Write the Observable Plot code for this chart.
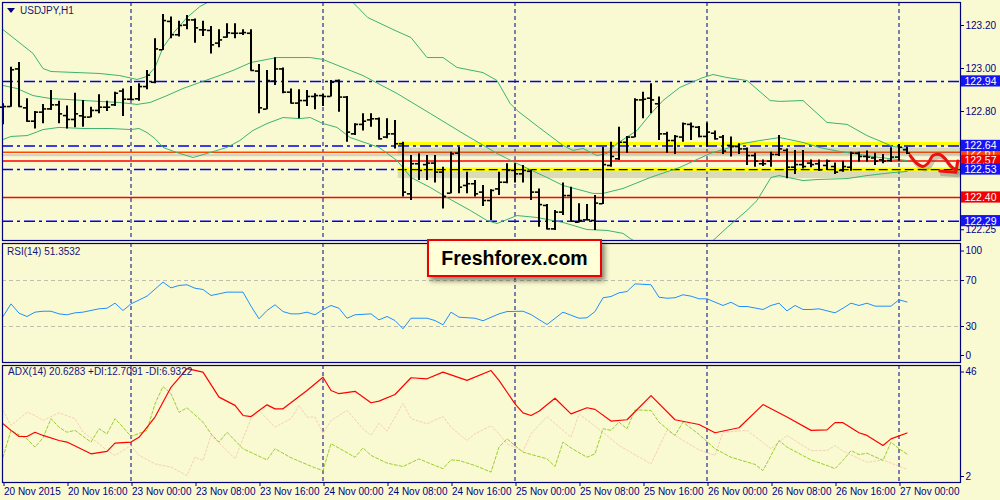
<!DOCTYPE html>
<html>
<head>
<meta charset="utf-8">
<script src="https://cdn.jsdelivr.net/npm/d3@7"></script>
<script src="https://cdn.jsdelivr.net/npm/@observablehq/plot@0.6"></script>
<style>
  body { margin: 0; background: #FAFAD2; }
  #chart { position: relative; width: 1000px; height: 500px; background: #FAFAD2; overflow: hidden;
    font-family: "Liberation Sans Narrow", "Liberation Sans", Arial, sans-serif; }
  #chart svg { position: absolute; left: 0; }
  .pane-title { position: absolute; font-size: 10px; line-height: 12px; color: #14147a; white-space: nowrap; }
  .tri { display: inline-block; width: 0; height: 0; border-left: 4px solid transparent;
    border-right: 4px solid transparent; border-top: 5px solid #000080; margin-right: 5px; vertical-align: 1px; }
  #logo { position: absolute; left: 427px; top: 239px; width: 175px; height: 38px; box-sizing: border-box;
    border: 2px solid #F00000; background: #FFFFD8; box-shadow: 3px 4px 5px rgba(0,0,0,0.45);
    font: bold 19.5px "Liberation Sans", Arial, sans-serif; color: #000; text-align: center; line-height: 34px; }
</style>
</head>
<body>
<div id="chart"></div>
<script>
// USDJPY H1, one bar per hour, bar 0 = 20 Nov 2015 08:00
const open = [
  122.820,122.823,122.998,122.817,122.755,122.797,122.812,122.831,122.781,122.763,
  122.780,122.774,122.805,122.820,122.831,122.895,122.857,122.859,122.916,122.936,
  123.087,123.219,123.157,123.202,123.226,123.180,123.177,123.118,123.146,123.164,
  123.164,123.164,122.988,122.811,122.941,122.998,122.890,122.839,122.851,122.870,
  122.874,122.870,122.944,122.867,122.696,122.740,122.761,122.766,122.681,122.696,
  122.650,122.417,122.557,122.553,122.560,122.518,122.420,122.606,122.456,122.464,
  122.425,122.386,122.440,122.471,122.526,122.510,122.522,122.425,122.363,122.254,
  122.332,122.409,122.285,122.296,122.293,122.371,122.549,122.580,122.657,122.681,
  122.854,122.862,122.836,122.696,122.665,122.681,122.740,122.727,122.684,122.699,
  122.681,122.642,122.637,122.626,122.595,122.557,122.569,122.600,122.619,122.541,
  122.553,122.560,122.557,122.549,122.544,122.526,122.541,122.606,122.591,122.584,
  122.575,122.572,122.588,122.622
];
const high = [
  122.836,123.006,123.028,122.859,122.800,122.833,122.898,122.848,122.826,122.885,
  122.851,122.820,122.878,122.848,122.890,122.905,122.916,122.929,122.991,123.138,
  123.251,123.239,123.220,123.247,123.230,123.220,123.195,123.180,123.208,123.208,
  123.180,123.180,123.019,122.991,123.050,123.002,122.905,122.901,122.898,122.882,
  122.879,122.944,122.947,122.870,122.743,122.789,122.789,122.770,122.766,122.758,
  122.657,122.595,122.603,122.595,122.595,122.541,122.611,122.634,122.518,122.479,
  122.456,122.436,122.518,122.557,122.557,122.549,122.526,122.440,122.368,122.340,
  122.467,122.448,122.371,122.367,122.409,122.634,122.657,122.727,122.684,122.859,
  122.890,122.929,122.867,122.704,122.688,122.746,122.746,122.730,122.746,122.709,
  122.688,122.681,122.650,122.630,122.606,122.575,122.611,122.688,122.626,122.619,
  122.619,122.575,122.575,122.575,122.560,122.569,122.611,122.611,122.616,122.606,
  122.600,122.631,122.647,122.634
];
const low = [
  122.738,122.820,122.820,122.750,122.719,122.743,122.805,122.743,122.719,122.724,
  122.727,122.771,122.789,122.800,122.823,122.777,122.851,122.848,122.901,122.929,
  123.084,123.138,123.146,123.180,123.118,123.149,123.068,123.096,123.141,123.138,
  123.153,122.988,122.789,122.808,122.921,122.882,122.836,122.766,122.823,122.808,
  122.823,122.867,122.797,122.657,122.688,122.709,122.727,122.668,122.673,122.626,
  122.402,122.386,122.479,122.479,122.467,122.347,122.417,122.417,122.417,122.402,
  122.358,122.293,122.409,122.464,122.467,122.467,122.386,122.262,122.250,122.247,
  122.316,122.285,122.281,122.293,122.247,122.367,122.541,122.572,122.606,122.678,
  122.766,122.789,122.665,122.606,122.600,122.657,122.665,122.678,122.634,122.668,
  122.600,122.588,122.600,122.549,122.541,122.544,122.541,122.591,122.487,122.507,
  122.533,122.538,122.522,122.526,122.507,122.518,122.522,122.564,122.564,122.549,
  122.557,122.564,122.569,122.600
];
const close = [
  122.823,122.994,122.823,122.755,122.797,122.812,122.831,122.789,122.763,122.789,
  122.774,122.805,122.820,122.820,122.885,122.857,122.856,122.916,122.969,123.091,
  123.223,123.157,123.200,123.226,123.189,123.180,123.110,123.133,123.166,123.164,
  123.167,122.991,122.817,122.944,122.998,122.890,122.839,122.851,122.870,122.874,
  122.870,122.936,122.867,122.704,122.740,122.755,122.766,122.673,122.696,122.650,
  122.425,122.557,122.526,122.560,122.518,122.405,122.603,122.448,122.464,122.417,
  122.386,122.433,122.471,122.526,122.510,122.526,122.425,122.367,122.254,122.332,
  122.409,122.290,122.293,122.296,122.374,122.553,122.591,122.657,122.681,122.854,
  122.857,122.854,122.696,122.665,122.684,122.743,122.730,122.684,122.704,122.673,
  122.616,122.637,122.626,122.595,122.569,122.557,122.600,122.626,122.541,122.553,
  122.544,122.553,122.529,122.569,122.518,122.544,122.606,122.591,122.588,122.569,
  122.569,122.588,122.634,122.606
];

// Bollinger bands [bar, price]
const bbUpper = [[0,123.181],[3.75,123.07],[5,123.0],[6,122.986],[12,122.977],[14.6,122.967],[16.75,122.949],[18,122.963],[19,123.005],[20,123.098],[21.25,123.163],[23,123.237],[24.6,123.288],[26,123.316],[30,123.37],[34,123.40],[38,123.39],[41.5,123.36],[43.75,123.307],[45.6,123.237],[49,123.177],[51,123.144],[53,123.051],[55,123.051],[56.75,123.005],[60,122.981],[61.75,122.944],[63.4,122.837],[64.25,122.805],[67,122.726],[70,122.642],[71.25,122.619],[72.5,122.628],[74.25,122.595],[75.5,122.605],[76.75,122.651],[79.25,122.712],[81,122.791],[82.5,122.851],[84.6,122.912],[87.5,122.958],[88.75,122.972],[90.5,122.958],[93,122.944],[95.9,122.851],[97.1,122.847],[100,122.851],[103,122.749],[105.5,122.740],[108,122.688],[111.25,122.637],[113,122.628]];
const bbMiddle = [[0,122.921],[1.75,122.907],[3.75,122.874],[6,122.860],[8,122.856],[12,122.847],[14.6,122.842],[16.75,122.833],[18.4,122.842],[20.5,122.874],[22.5,122.907],[24.6,122.935],[26.75,122.963],[28.75,122.991],[31,123.028],[34.25,123.051],[38.4,123.051],[40,123.042],[43.4,122.991],[45,122.967],[49.25,122.884],[53.4,122.791],[57.5,122.698],[61.75,122.605],[64.25,122.558],[68,122.493],[70,122.456],[73.75,122.419],[75,122.419],[77.5,122.442],[80.9,122.493],[84.6,122.540],[88.4,122.605],[92.5,122.651],[94.6,122.665],[97.1,122.679],[100,122.656],[102,122.633],[104.6,122.614],[107.1,122.600],[109.6,122.586],[113,122.572]];
const bbLower = [[0,122.670],[1,122.684],[3,122.688],[3.75,122.698],[5,122.716],[7,122.726],[10,122.721],[13.4,122.721],[16,122.716],[17,122.721],[18,122.702],[19,122.674],[20,122.633],[21.75,122.609],[23.75,122.586],[25.5,122.605],[28,122.633],[29.6,122.665],[31.25,122.712],[33,122.744],[35,122.772],[37.1,122.767],[38.4,122.772],[40,122.744],[41.75,122.726],[43.4,122.679],[47,122.633],[49.25,122.572],[51,122.493],[53.4,122.447],[55.5,122.400],[58.4,122.340],[60.5,122.293],[61.75,122.279],[64.25,122.316],[66.75,122.307],[70,122.284],[73,122.251],[75.5,122.247],[77.5,122.233],[78.4,122.209],[81,122.153],[84.6,122.144],[87,122.177],[88.75,122.200],[90.5,122.260],[93,122.340],[94.25,122.386],[96,122.493],[97,122.502],[100,122.479],[102,122.484],[105.5,122.488],[108,122.502],[111.25,122.516],[113,122.521]];

// RSI(14) [bar, value]
const rsi = [[0,38.7],[1,49.7],[2,41.6],[3,38.7],[4,42.5],[5,43.3],[6,43.3],[7,41.0],[8,40.2],[9,41.9],[10,42.5],[12,45.4],[13,45.9],[14,50.3],[15,43.9],[16,49.7],[18,56.4],[20,68.6],[21,63.6],[22,65.7],[23,66.3],[24,63.3],[25,62.2],[26,57.0],[27,58.4],[28,59.9],[30,59.9],[31,47.7],[32,36.7],[33,43.9],[34,48.9],[35,43.0],[36,41.0],[37,41.0],[38,42.5],[39,40.2],[40,44.8],[41,48.3],[42,45.9],[43,37.2],[44,40.2],[46,41.0],[47,35.8],[48,38.7],[49,35.2],[50,28.0],[51,37.2],[53,37.2],[54,35.2],[55,31.5],[56,42.5],[57,38.1],[59,37.2],[60,35.0],[62,41.0],[63,43.0],[65,43.3],[66,40.4],[68,31.7],[70,42.5],[72,37.2],[73,37.6],[74,43.0],[75,55.0],[76,56.1],[77,59.3],[78,60.4],[79,67.1],[81,66.3],[82,55.5],[83,54.6],[84,55.0],[85,57.6],[86,56.4],[87,54.1],[88,54.1],[90,48.3],[91,51.1],[92,47.4],[93,47.4],[95,44.8],[96,48.3],[97,50.3],[98,43.6],[99,48.3],[100,44.8],[101,44.8],[102,45.4],[104,41.9],[105,45.9],[106,50.3],[107,48.3],[108,50.3],[109,47.7],[111,47.7],[112,53.2],[113,51.35]];
const rsiLevels = [70, 30];

// ADX(14), +DI, -DI [bar, value]
const adx = [[0,24.1],[1,21.6],[2,19.3],[3,19.3],[4,20.9],[5,19.7],[7,17.8],[8,17.2],[11,12.8],[13,13.7],[14,16.8],[16,17.2],[17,19.0],[19,26.6],[21,37.8],[23,44.8],[25,43.5],[27,34.1],[29,31.0],[30,27.2],[31,26.8],[33,31.2],[34,29.7],[35,29.7],[38,36.6],[40,41.6],[41,36.6],[42,35.4],[44,36.3],[46,32.0],[47,32.6],[49,35.1],[51,41.4],[53,41.0],[55,43.5],[58,40.4],[61,44.1],[62,40.4],[64,31.6],[65,28.2],[66,27.2],[67,28.8],[69,33.7],[71,27.8],[73,30.1],[74,29.5],[76,25.1],[78,25.6],[81,34.7],[84,25.6],[87,23.8],[89,20.7],[92,22.6],[95,31.3],[98,26.6],[101,21.6],[103,21.8],[104,24.5],[105,24.5],[107,20.7],[108,19.7],[110,15.9],[111,18.4],[113,20.63]];
const plusDI = [[0,11.5],[1,21.6],[3,18.4],[4,15.3],[5,18.8],[6,26.0],[7,22.8],[8,20.9],[9,21.6],[11,17.2],[12,22.2],[13,20.3],[14,26.0],[15,22.8],[16,19.3],[18,21.6],[19,31.6],[20,38.1],[21,35.4],[22,28.4],[23,30.1],[25,24.7],[26,20.3],[27,17.2],[28,20.9],[30,14.7],[33,10.5],[34,14.7],[36,11.3],[39,7.5],[40,6.5],[41,16.6],[44,11.5],[45,15.0],[46,12.2],[48,9.3],[50,8.0],[52,10.9],[53,9.6],[55,7.2],[56,10.5],[57,10.3],[59,8.4],[61,5.9],[62,15.3],[63,18.4],[64,15.9],[65,13.4],[68,10.9],[69,8.0],[70,17.2],[71,15.0],[73,11.5],[74,12.8],[75,22.2],[76,21.6],[77,24.7],[78,22.2],[79,29.3],[81,29.1],[82,24.7],[84,19.7],[85,24.7],[87,20.1],[89,14.7],[91,11.5],[94,8.8],[95,6.5],[97,17.8],[98,15.3],[101,10.5],[103,8.4],[104,7.2],[105,10.3],[106,14.0],[107,12.5],[108,13.0],[110,10.3],[111,17.2],[112,14.7],[113,12.71]];
const minusDI = [[0,29.1],[1,23.4],[3,28.4],[4,27.2],[5,25.3],[7,28.2],[9,26.0],[10,20.9],[12,16.6],[13,14.0],[14,12.2],[16,15.9],[17,12.2],[19,9.0],[21,7.8],[23,4.6],[24,11.5],[25,10.3],[26,19.7],[28,14.0],[29,10.9],[31,26.0],[32,29.1],[34,22.8],[36,26.0],[37,31.0],[38,26.6],[39,26.6],[40,20.5],[41,25.3],[43,29.1],[45,22.2],[46,19.7],[47,24.3],[48,21.3],[50,31.8],[51,26.0],[53,24.1],[55,26.8],[56,22.8],[58,17.8],[59,20.3],[61,23.4],[62,20.3],[63,16.6],[65,13.8],[66,20.3],[68,26.8],[71,19.0],[72,27.8],[75,20.9],[77,15.9],[81,9.0],[83,21.6],[85,17.8],[87,14.3],[89,12.2],[90,20.9],[93,21.6],[96,14.7],[98,19.7],[101,14.0],[103,14.0],[104,15.9],[105,13.8],[108,9.6],[110,10.5],[113,6.93]];

// time axis
const timeTicks = [0,8,16,24,32,40,48,56,64,72,80,88,96,104,112];
const timeLabels = ["20 Nov 2015","20 Nov 16:00","23 Nov 00:00","23 Nov 08:00","23 Nov 16:00","24 Nov 00:00","24 Nov 08:00","24 Nov 16:00","25 Nov 00:00","25 Nov 08:00","25 Nov 16:00","26 Nov 00:00","26 Nov 08:00","26 Nov 16:00","27 Nov 00:00"];

// price levels drawn on the chart
const blueLevels = [122.94, 122.64, 122.53, 122.29];
const redLevels = [122.61, 122.57, 122.40];
const greyLevel = [122.598];
const zoneLevels = [122.64, 122.53];
const zoneStart = 49.4;
const priceTicks = [123.20, 123.00, 122.80, 122.25];
const boxOrder = [122.94, 122.61, 122.64, 122.57, 122.53, 122.40, 122.29];

// hand drawn forecast arrow [bar, price]
const forecastPath = [[113.4,122.595],[114.25,122.558],[115,122.544],[115.6,122.558],[116.25,122.595],[117.1,122.600],[117.75,122.581],[118.4,122.549],[119,122.530]];
const arrowHead = [[117.1,122.523],[119.1,122.517],[119.35,122.570]];

const navy = "#000080";
const green = "#3CB371";
const font = '"Liberation Sans Narrow", "Liberation Sans", Arial, sans-serif';
const xDomain = [-0.0625, 119.6875];
const dayStarts = timeTicks.filter((t, k) => timeLabels[k].endsWith("00:00"));
const bars = open.map((o, i) => ({i, open: o, high: high[i], low: low[i], close: close[i]}));
const style = {background: "none", fontFamily: font, fontSize: "10px", color: navy, overflow: "visible"};
const boxFill = v => blueLevels.includes(v) ? "#1414F5" : v === 122.61 ? "#FF4500" : "#F00000";

const grid = () => Plot.ruleX(dayStarts, {stroke: navy, strokeDasharray: "4,3", strokeWidth: 1});

const pricePlot = Plot.plot({
  width: 1000, height: 242,
  marginTop: 2, marginBottom: 2, marginLeft: 2, marginRight: 40,
  x: {domain: xDomain, axis: null},
  y: {domain: [122.2, 123.307]},
  style,
  marks: [
    grid(),
    Plot.ruleY(greyLevel, {stroke: "#D4D4C2", strokeWidth: 2.5}),
    Plot.ruleY(redLevels, {stroke: d => d === 122.61 ? "#FF4500" : "#FF0000", strokeWidth: 1.5}),
    Plot.ruleY(zoneLevels, {x1: zoneStart, x2: xDomain[1], stroke: "#6f6f55", strokeOpacity: 0.22, strokeWidth: 7, dy: 5}),
    Plot.ruleY([zoneLevels[0]], {x1: zoneStart, x2: xDomain[1], stroke: "#FFFF00", strokeWidth: 4, dy: -2}),
    Plot.ruleY(blueLevels, {stroke: "#0000EE", strokeWidth: 1.5, strokeDasharray: "11,4,3,4"}),
    Plot.ruleY([zoneLevels[1]], {x1: zoneStart, x2: xDomain[1], stroke: "#FFFF00", strokeWidth: 4}),
    Plot.ruleY([zoneLevels[1]], {x1: zoneStart, x2: xDomain[1], stroke: "#111", strokeWidth: 1.2, strokeDasharray: "9,4"}),
    Plot.line(bbUpper, {x: d => d[0], y: d => d[1], stroke: green, strokeWidth: 1, clip: true}),
    Plot.line(bbMiddle, {x: d => d[0], y: d => d[1], stroke: green, strokeWidth: 1, clip: true}),
    Plot.line(bbLower, {x: d => d[0], y: d => d[1], stroke: green, strokeWidth: 1, clip: true}),
    Plot.ruleX(bars, {x: "i", y1: "low", y2: "high", stroke: "#000", strokeWidth: 2}),
    Plot.ruleY(bars, {y: "open", x1: d => d.i - 0.45, x2: "i", stroke: "#000", strokeWidth: 1.6}),
    Plot.ruleY(bars, {y: "close", x1: "i", x2: d => d.i + 0.45, stroke: "#000", strokeWidth: 1.6}),
    Plot.line(forecastPath, {x: d => d[0], y: d => d[1], stroke: "#555", strokeOpacity: 0.3, strokeWidth: 4, dx: 2, dy: 3, curve: "catmull-rom"}),
    Plot.line(arrowHead, {x: d => d[0], y: d => d[1], stroke: "#555", strokeOpacity: 0.3, strokeWidth: 4, dx: 2, dy: 3}),
    Plot.line(forecastPath, {x: d => d[0], y: d => d[1], stroke: "#EE1010", strokeWidth: 3, curve: "catmull-rom"}),
    Plot.line(arrowHead, {x: d => d[0], y: d => d[1], stroke: "#EE1010", strokeWidth: 3}),
    Plot.frame({stroke: navy, strokeWidth: 1.2}),
    Plot.axisY(priceTicks, {anchor: "right", tickSize: 3, tickPadding: 2, tickFormat: d3.format(".2f"), stroke: navy, fill: navy}),
    ...boxOrder.flatMap(v => [
      Plot.rect([v], {x1: 119.8, x2: 124.8, y1: d => d - 0.026, y2: d => d + 0.026, fill: boxFill(v)}),
      Plot.text([v], {x: 119.8, y: d => d, text: d => d.toFixed(2), textAnchor: "start", dx: 3, fill: "white", fontSize: 10.5})
    ])
  ]
});

const rsiPlot = Plot.plot({
  width: 1000, height: 120,
  marginTop: 1, marginBottom: 0, marginLeft: 2, marginRight: 40,
  x: {domain: xDomain, axis: null},
  y: {domain: [-1.3, 102.2]},
  style,
  marks: [
    grid(),
    Plot.ruleY(rsiLevels, {stroke: "#BDBDB0", strokeDasharray: "4,3"}),
    Plot.line(rsi, {x: d => d[0], y: d => d[1], stroke: "#1E90FF", strokeWidth: 1}),
    Plot.frame({stroke: navy, strokeWidth: 1.2}),
    Plot.axisY([70, 30], {anchor: "right", tickSize: 3, tickPadding: 2, stroke: navy, fill: navy}),
    Plot.axisY([100], {anchor: "right", tickSize: 3, tickPadding: 2, stroke: navy, fill: navy, dy: 5}),
    Plot.axisY([0], {anchor: "right", tickSize: 3, tickPadding: 2, stroke: navy, fill: navy, dy: -5.5})
  ]
});

const adxPlot = Plot.plot({
  width: 1000, height: 136,
  marginTop: 1, marginBottom: 18, marginLeft: 2, marginRight: 40,
  x: {domain: xDomain},
  y: {domain: [2, 46]},
  style,
  marks: [
    grid(),
    Plot.line(minusDI, {x: d => d[0], y: d => d[1], stroke: "#F6CFB4", strokeWidth: 1, strokeDasharray: "2,2"}),
    Plot.line(plusDI, {x: d => d[0], y: d => d[1], stroke: "#9ACD32", strokeWidth: 1, strokeDasharray: "3,2"}),
    Plot.line(adx, {x: d => d[0], y: d => d[1], stroke: "#FF0000", strokeWidth: 1.2}),
    Plot.frame({stroke: navy, strokeWidth: 1.2}),
    Plot.axisY([46], {anchor: "right", tickSize: 3, tickPadding: 2, stroke: navy, fill: navy, dy: 6.5}),
    Plot.axisY([2], {anchor: "right", tickSize: 3, tickPadding: 2, stroke: navy, fill: navy, dy: -6}),
    Plot.axisX(timeTicks, {anchor: "bottom", tickSize: 4, tickPadding: 1, textAnchor: "start", dx: 1,
      tickFormat: d => timeLabels[timeTicks.indexOf(d)], stroke: navy, fill: navy, label: null})
  ]
});

const chart = document.querySelector("#chart");
pricePlot.style.top = "0px";
rsiPlot.style.top = "242px";
adxPlot.style.top = "364px";
chart.append(pricePlot, rsiPlot, adxPlot);

const titles = [
  {html: '<span class="tri"></span>USDJPY,H1', left: 7, top: 5},
  {html: "RSI(14) 51.3532", left: 7, top: 246},
  {html: "ADX(14) 20.6283 +DI:12.7091 -DI:6.9322", left: 8, top: 366}
];
for (const t of titles) {
  const el = document.createElement("div");
  el.className = "pane-title";
  el.style.left = t.left + "px";
  el.style.top = t.top + "px";
  el.innerHTML = t.html;
  chart.append(el);
}
const logo = document.createElement("div");
logo.id = "logo";
logo.textContent = "Freshforex.com";
chart.append(logo);
</script>
</body>
</html>
